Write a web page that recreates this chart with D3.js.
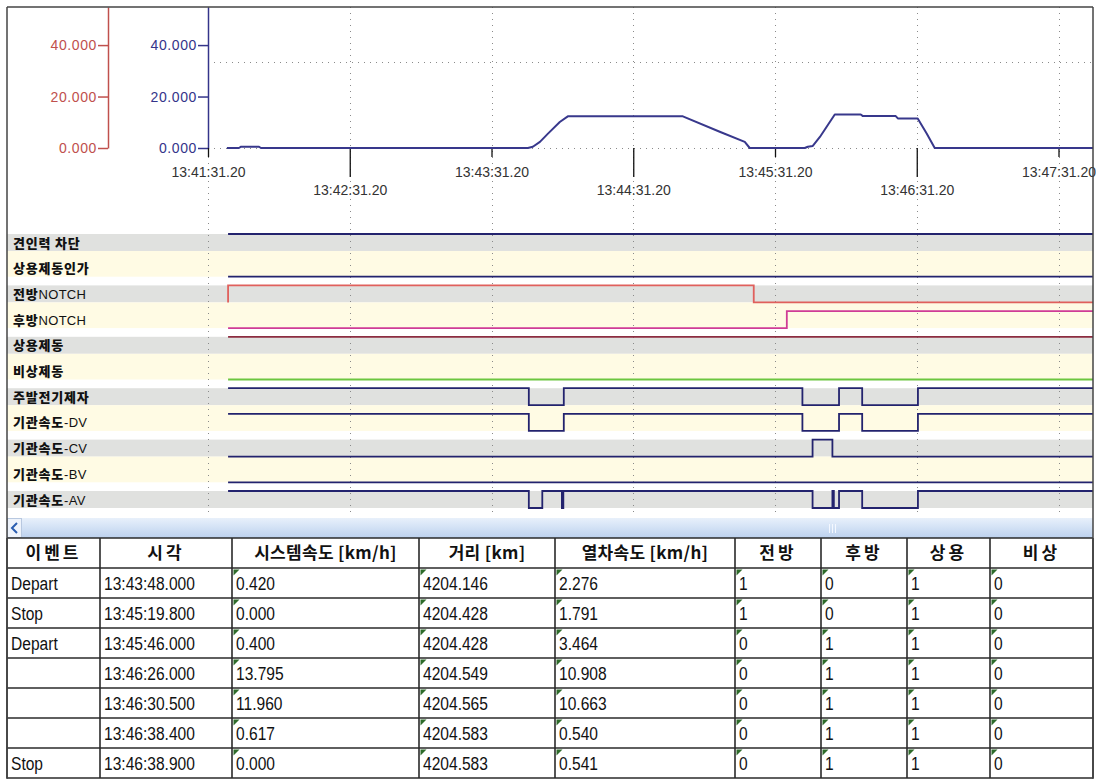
<!DOCTYPE html>
<html><head><meta charset="utf-8">
<script src="https://cdn.jsdelivr.net/npm/d3@7"></script>
<style>
body{margin:0;background:#fff;}
svg{display:block;}
</style></head><body>
<svg id="chart" width="1096" height="779"></svg>
<script>
// ================= DATA =================
const timeTicks = ["13:41:31.2","13:42:31.2","13:43:31.2","13:44:31.2","13:45:31.2","13:46:31.2","13:47:31.2"];
const timeTickLabels = ["13:41:31.20","13:42:31.20","13:43:31.20","13:44:31.20","13:45:31.20","13:46:31.20","13:47:31.20"];
const timeDomain = ["13:41:31.2","13:47:45.8"];
const yTicks = [0, 20, 40];
const yGridValues = [0, 33.4];
const yMax = 54.8;

// speed trace (km/h)
const speedTimes = ["13:41:39.2","13:41:44.3","13:41:45.2","13:41:52.8","13:41:53.6","13:43:46.6","13:43:48.7","13:43:51.7","13:43:55.1","13:44:00.1","13:44:03.5","13:44:52.2","13:45:07.8","13:45:18.4","13:45:20.5","13:45:43.8","13:45:45.1","13:45:47.2","13:45:50.2","13:45:56.5","13:46:07.5","13:46:08.4","13:46:22.3","13:46:23.2","13:46:31.6","13:46:35.4","13:46:38.8","13:47:45.8"];
const speedValues = [0, 0, 0.5, 0.5, 0, 0, 0.5, 2.4, 5.6, 10.1, 12.3, 12.3, 6.3, 2.4, 0, 0, 0.5, 0.8, 4.3, 13.0, 13.0, 12.4, 12.4, 11.5, 11.5, 5.6, 0, 0];

const signalNames = ["견인력 차단","상용제동인가","전방NOTCH","후방NOTCH","상용제동","비상제동","주발전기제자","기관속도-DV","기관속도-CV","기관속도-BV","기관속도-AV"];
// each signal: list of [time, state] (1 = high, 0 = low)
const signalTransitions = [
  [["13:41:39.7",1]],
  [["13:41:39.7",0]],
  [["13:41:39.7",0],["13:41:39.7",1],["13:45:22.2",0]],
  [["13:41:39.7",0],["13:45:36.2",1]],
  [["13:41:39.7",1]],
  [["13:41:39.7",0]],
  [["13:41:39.7",1],["13:43:47.0",0],["13:44:01.8",1],["13:45:42.8",0],["13:45:58.3",1],["13:46:08.1",0],["13:46:31.7",1]],
  [["13:41:39.7",1],["13:43:47.0",0],["13:44:01.8",1],["13:45:42.8",0],["13:45:58.3",1],["13:46:08.1",0],["13:46:31.7",1]],
  [["13:41:39.7",0],["13:45:47.1",1],["13:45:55.5",0]],
  [["13:41:39.7",0]],
  [["13:41:39.7",1],["13:43:47.0",0],["13:43:52.7",1],["13:44:01.0",0],["13:44:01.6",1],["13:45:47.1",0],["13:45:55.5",1],["13:45:56.1",0],["13:45:58.3",1],["13:46:08.1",0],["13:46:31.7",1]]
];

const tableColumns = ["이벤트","시각","시스템속도 [km/h]","거리 [km]","열차속도 [km/h]","전방","후방","상용","비상"];
const eventNames = ["Depart","Stop","Depart","","","","Stop"];
const eventTimes = ["13:43:48.000","13:45:19.800","13:45:46.000","13:46:26.000","13:46:30.500","13:46:38.400","13:46:38.900"];
const systemSpeeds = [0.420, 0.000, 0.400, 13.795, 11.960, 0.617, 0.000];
const distances = [4204.146, 4204.428, 4204.428, 4204.549, 4204.565, 4204.583, 4204.583];
const trainSpeeds = [2.276, 1.791, 3.464, 10.908, 10.663, 0.540, 0.541];
const forwardFlags = [1, 1, 0, 0, 0, 0, 0];
const reverseFlags = [0, 0, 1, 1, 1, 1, 1];
const serviceFlags = [1, 1, 1, 1, 1, 1, 1];
const emergencyFlags = [0, 0, 0, 0, 0, 0, 0];

// ================= STYLE / LAYOUT =================
const signalColors = ["#23236e","#23236e","#e0605c","#cf3c96","#8c2c40","#6cc640","#23236e","#23236e","#23236e","#23236e","#23236e"];
const W = 1096, H = 779;
const L = 7, R = 1093;
const plotLeft = 208;
const rowTop = 234, rowPitch = 25.7, rowSpan = 17;
const tableTop = 538, rowH = 30;
const colEdges = [7, 100, 232, 419, 555, 735, 821, 907, 990, 1093];

const parseT = s => {
  const [h, m, sec] = s.split(":");
  return new Date(Date.UTC(2000, 0, 1, +h, +m, 0) + Math.round(parseFloat(sec) * 1000));
};

const svg = d3.select("#chart");
const numFont = "'Liberation Sans', Arial, sans-serif";
const krFont = "'Noto Sans CJK KR', 'Noto Sans', sans-serif";

const x = d3.scaleUtc().domain(timeDomain.map(parseT)).range([plotLeft, R]);
const y = d3.scaleLinear().domain([0, yMax]).range([148, L]);
const endT = parseT(timeDomain[1]);

// ---------- signal bands ----------
const rowY = d3.scaleLinear().domain([0, signalNames.length - 1]).range([rowTop, rowTop + rowPitch * (signalNames.length - 1)]);
const bands = svg.append("g");
signalNames.forEach((n, i) => {
  const hi = rowY(i);
  if (i % 2 === 0) {
    bands.append("rect").attr("x", L).attr("y", hi).attr("width", R - L).attr("height", rowSpan).attr("fill", "#e0e1df");
  } else {
    bands.append("rect").attr("x", L).attr("y", hi - (rowPitch - rowSpan)).attr("width", R - L).attr("height", rowPitch).attr("fill", "#fffbe4");
  }
});

// ---------- grid ----------
const grid = svg.append("g").attr("stroke", "#8a8a8a").attr("stroke-width", 1).attr("stroke-dasharray", "1,5");
timeTicks.forEach(t => {
  const xx = Math.round(x(parseT(t))) + 0.5;
  grid.append("line").attr("x1", xx).attr("x2", xx).attr("y1", L).attr("y2", 516);
});
yGridValues.forEach(v => {
  const yy = Math.round(y(v)) + 0.5;
  grid.append("line").attr("x1", plotLeft).attr("x2", R).attr("y1", yy).attr("y2", yy);
});

// ---------- y axes ----------
function styleAxis(g, color) {
  g.select(".domain").attr("stroke", color).attr("stroke-width", 1.5);
  g.selectAll(".tick line").attr("stroke", color).attr("stroke-width", 1.5);
  g.selectAll(".tick text").attr("fill", color).attr("font-family", numFont).attr("font-size", 14).attr("letter-spacing", 0.6);
}
const redAxis = svg.append("g").attr("transform", "translate(108,0)")
  .call(d3.axisLeft(y).tickValues(yTicks).tickFormat(d => d.toFixed(3)).tickSize(10).tickSizeOuter(0).tickPadding(1));
styleAxis(redAxis, "#c0504d");
const blueAxis = svg.append("g").attr("transform", `translate(${plotLeft},0)`)
  .call(d3.axisLeft(y).tickValues(yTicks).tickFormat(d => d.toFixed(3)).tickSize(10).tickSizeOuter(0).tickPadding(1));
styleAxis(blueAxis, "#34348a");

// ---------- x axis ----------
const xAxis = svg.append("g").attr("transform", `translate(0,${y(0)})`)
  .call(d3.axisBottom(x).tickValues(timeTicks.map(parseT)).tickFormat((d, i) => timeTickLabels[i]).tickSizeOuter(0));
xAxis.select(".domain").remove();
xAxis.selectAll(".tick line").attr("stroke", "#111").attr("stroke-width", 1.3).attr("y2", (d, i) => i % 2 ? 29 : 9);
xAxis.selectAll(".tick text").attr("dy", null).attr("y", (d, i) => i % 2 ? 47 : 29)
  .attr("fill", "#333").attr("font-family", numFont).attr("font-size", 14);

// ---------- speed line ----------
const speedData = speedTimes.map((t, i) => ({ t: parseT(t), v: speedValues[i] }));
svg.append("path").datum(speedData)
  .attr("fill", "none").attr("stroke", "#38388c").attr("stroke-width", 2).attr("stroke-linejoin", "round")
  .attr("d", d3.line().x(d => x(d.t)).y(d => y(d.v)));

// ---------- signal lines ----------
svg.append("defs").append("clipPath").attr("id", "clipSig")
  .append("rect").attr("x", plotLeft).attr("y", 0).attr("width", R - plotLeft).attr("height", H);
const sigG = svg.append("g").attr("clip-path", "url(#clipSig)");
signalTransitions.forEach((tr, i) => {
  const hi = rowY(i), lo = hi + rowSpan;
  const pts = [];
  let prev = null;
  tr.forEach(([t, s]) => {
    const tt = parseT(t);
    if (prev !== null) pts.push([tt, prev]);
    pts.push([tt, s]);
    prev = s;
  });
  pts.push([endT, prev]);
  sigG.append("path").datum(pts)
    .attr("fill", "none").attr("stroke", signalColors[i]).attr("stroke-width", 1.8)
    .attr("d", d3.line().x(d => x(d[0])).y(d => d[1] ? hi : lo));
});

// ---------- signal labels ----------
signalNames.forEach((n, i) => {
  const txt = svg.append("text").attr("x", 13).attr("y", rowY(i) + 13.5)
    .attr("font-size", 13).attr("fill", "#111");
  const parts = n.match(/[\uAC00-\uD7A3 ]+|[^\uAC00-\uD7A3 ]+/g);
  parts.forEach(p => {
    const hang = /[\uAC00-\uD7A3]/.test(p);
    txt.append("tspan").text(p)
      .attr("font-family", hang ? krFont : numFont)
      .attr("font-weight", hang ? 900 : 400)
      .attr("letter-spacing", hang ? 0.8 : 0.3)
      .attr("font-size", 13);
  });
});

// ---------- scrollbar ----------
const defs = svg.select("defs");
const gr = defs.append("linearGradient").attr("id", "sb").attr("x1", 0).attr("x2", 0).attr("y1", 0).attr("y2", 1);
gr.append("stop").attr("offset", 0).attr("stop-color", "#e8f0fb");
gr.append("stop").attr("offset", 0.5).attr("stop-color", "#d2e1f5");
gr.append("stop").attr("offset", 1).attr("stop-color", "#bcd1ee");
svg.append("rect").attr("x", L).attr("y", 518).attr("width", R - L).attr("height", 20).attr("fill", "url(#sb)");
svg.append("rect").attr("x", L + 0.5).attr("y", 518.5).attr("width", 14).attr("height", 19).attr("fill", "#eef3fb").attr("stroke", "#b8c8e0");
svg.append("path").attr("d", "M17,523 L12,528 L17,533").attr("fill", "none").attr("stroke", "#2a5db0").attr("stroke-width", 2);
[0, 3, 6].forEach(d => svg.append("line").attr("x1", 829 + d + 0.5).attr("x2", 829 + d + 0.5).attr("y1", 524).attr("y2", 533).attr("stroke", "#f4f8ff").attr("stroke-width", 1));

// ---------- table ----------
const rows = eventNames.map((e, i) => [
  e, eventTimes[i], systemSpeeds[i].toFixed(3), distances[i].toFixed(3), trainSpeeds[i].toFixed(3),
  String(forwardFlags[i]), String(reverseFlags[i]), String(serviceFlags[i]), String(emergencyFlags[i])
]);
const tbl = svg.append("g");
tbl.append("rect").attr("x", L).attr("y", tableTop).attr("width", R - L).attr("height", rowH * (rows.length + 1)).attr("fill", "#fff");
tableColumns.forEach((c, j) => {
  tbl.append("text").attr("x", (colEdges[j] + colEdges[j + 1]) / 2).attr("y", tableTop + 21)
    .attr("text-anchor", "middle").attr("font-family", krFont).attr("font-weight", 700)
    .attr("font-size", 17).attr("fill", "#111").attr("letter-spacing", c.length <= 3 ? 3 : 0.3).text(c);
});
rows.forEach((r, i) => {
  const top = tableTop + rowH * (i + 1);
  r.forEach((v, j) => {
    if (j >= 2) {
      const x0 = colEdges[j] + 1.5, y0 = top + 1.5;
      tbl.append("path").attr("d", `M${x0},${y0} L${x0 + 6},${y0} L${x0},${y0 + 6} Z`).attr("fill", "#2e6b2a");
    }
    tbl.append("text")
      .attr("transform", `translate(${colEdges[j] + 4},${top + 22}) scale(0.82,1)`)
      .attr("font-family", numFont)
      .attr("font-size", 19).attr("fill", "#111").text(v);
  });
});
const lines = tbl.append("g").attr("stroke", "#2a2a2a").attr("stroke-width", 1.6);
for (let k = 0; k <= rows.length + 1; k++) {
  const yy = tableTop + rowH * k;
  lines.append("line").attr("x1", L).attr("x2", R).attr("y1", yy).attr("y2", yy);
}
colEdges.forEach(cx => lines.append("line").attr("x1", cx).attr("x2", cx).attr("y1", tableTop).attr("y2", tableTop + rowH * (rows.length + 1)));

// ---------- frame ----------
const fr = svg.append("g").attr("stroke", "#444").attr("stroke-width", 1.5).attr("fill", "none");
fr.append("line").attr("x1", L).attr("x2", R).attr("y1", L).attr("y2", L);
fr.append("line").attr("x1", L).attr("x2", L).attr("y1", L).attr("y2", H);
fr.append("line").attr("x1", R).attr("x2", R).attr("y1", L).attr("y2", H);
</script>
</body></html>
